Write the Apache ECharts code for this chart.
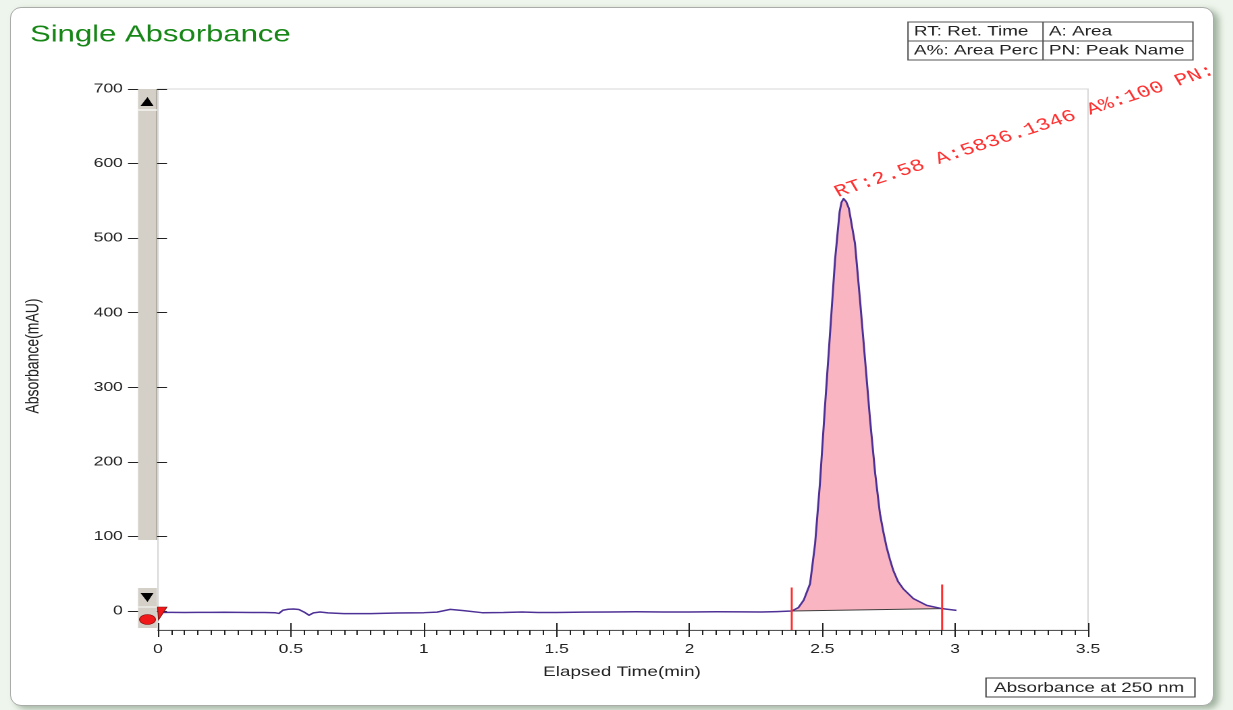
<!DOCTYPE html>
<html>
<head>
<meta charset="utf-8">
<script src="https://cdn.jsdelivr.net/npm/echarts@6/dist/echarts.min.js"></script>
<style>
  html, body { margin: 0; padding: 0; width: 1233px; height: 710px; overflow: hidden; background: #eef5ec; }
  #panel {
    position: absolute; left: 10px; top: 7px; width: 1202px; height: 697px;
    background: #fff; border: 1px solid #a9aca9; border-radius: 11px;
    box-shadow: 5px 3px 6px rgba(110, 135, 110, 0.6);
  }
  #chart { position: absolute; left: 0; top: 0; height: 710px; transform-origin: 0 0; }
</style>
</head>
<body>
<div id="panel"></div>
<div id="chart"></div>
<script>
// Detector trace: elapsed time (min) and absorbance (mAU)
const traceTime = [
  0.00, 0.05, 0.10, 0.15, 0.20, 0.25, 0.30, 0.35, 0.40, 0.44,
  0.455, 0.47, 0.49, 0.51, 0.53, 0.55, 0.568, 0.585, 0.61, 0.64,
  0.70, 0.80, 0.90, 1.00, 1.05, 1.10, 1.15, 1.22, 1.30, 1.37,
  1.43, 1.50, 1.60, 1.70, 1.80, 1.90, 2.00, 2.10, 2.20, 2.27,
  2.33, 2.385, 2.41, 2.43, 2.454, 2.473, 2.491, 2.51, 2.529, 2.548,
  2.565, 2.572, 2.58, 2.59, 2.60, 2.623, 2.642, 2.661, 2.68, 2.699,
  2.717, 2.73, 2.742, 2.755, 2.767, 2.785, 2.805, 2.843, 2.893, 2.951, 3.005
];
const traceAbs = [
  -1.5, -1.4, -1.5, -1.3, -1.4, -1.2, -1.3, -1.6, -1.5, -1.8,
  -2.8, 1.5, 2.8, 3.2, 2.5, -1.0, -5.2, -2.0, -0.9, -2.0,
  -3.0, -3.0, -2.3, -1.8, -1.0, 2.6, 1.0, -1.8, -1.5, -0.8,
  -1.6, -1.5, -1.0, -0.8, -0.6, -0.9, -0.8, -0.6, -0.7, -0.9,
  -0.3, 0.4, 5, 15, 37, 91, 171, 274, 372, 471,
  535, 548, 553, 549, 540, 493, 417, 337, 256, 185,
  131, 106, 86, 69, 55, 40, 30, 17, 8, 3.6, 1.3
];

// Integrated peak: start/end marks and the drawn baseline between them
const peakStart = 2.385;
const peakEnd = 2.951;
const baselineStart = 0.4;
const baselineEnd = 3.6;
const markerTimes = [2.385, 2.951];
const markerTops = [32, 36];

// Peak report
const peakRT = 2.58;
const peakApex = 553;
const peakArea = '5836.1346';
const peakAreaPct = '100';

// Axis ticks
const xTicks = [0, 0.5, 1, 1.5, 2, 2.5, 3, 3.5];
const yTicks = [0, 100, 200, 300, 400, 500, 600, 700];

// Legend texts
const legendCells = [['RT: Ret. Time', 'A: Area'], ['A%: Area Perc', 'PN: Peak Name']];
const channelName = 'Absorbance at 250 nm';

// The instrument screen is drawn 1.35x wider than tall
const STRETCH = 1.35;
const W = Math.round(1213 / STRETCH);
const el = document.getElementById('chart');
el.style.width = W + 'px';
el.style.transform = 'scaleX(' + STRETCH + ')';
const px = v => v / STRETCH;   // horizontal screen pixel -> chart pixel

const FONT = 'Liberation Sans, Arial, sans-serif';
const gridLeft = px(158);
const gridRight = W - px(1088);

const traceData = traceTime.map((t, i) => [t, traceAbs[i]]);

const markerSeries = markerTimes.map((t, i) => ({
  type: 'line', xAxisIndex: 0, yAxisIndex: 0, silent: true, symbol: 'none',
  data: [[t, -25], [t, markerTops[i]]],
  lineStyle: { color: '#ff2d2d', width: 1.5 }, z: 6
}));

const chart = echarts.init(el, null, { renderer: 'canvas', devicePixelRatio: 2 });

const option = {
  animation: false,
  backgroundColor: 'transparent',
  grid: [
    { left: gridLeft, right: gridRight, top: 89, bottom: 80, show: true,
      borderColor: '#d6d6d6', borderWidth: 1, backgroundColor: 'transparent' },
    { left: gridLeft, right: gridRight, top: 89, bottom: 99 }
  ],
  xAxis: [
    { type: 'value', gridIndex: 0, position: 'bottom', min: 0, max: 3.5, interval: 0.5,
      axisLine: { onZero: false, lineStyle: { color: '#555', width: 1 } },
      axisTick: { show: true, length: 7, lineStyle: { color: '#222' } },
      minorTick: { show: true, splitNumber: 10, length: 5, lineStyle: { color: '#222' } },
      splitLine: { show: false },
      axisLabel: { color: '#222', fontFamily: FONT, fontSize: 13, margin: 13,
        formatter: v => String(v) } },
    { type: 'value', gridIndex: 0, position: 'bottom', min: 0, max: 3.5, interval: 0.5,
      axisLine: { show: false, onZero: false },
      axisTick: { show: true, inside: true, length: 7, lineStyle: { color: '#222' } },
      axisLabel: { show: false }, splitLine: { show: false } },
    { type: 'value', gridIndex: 1, min: 0, max: 3.5, show: false }
  ],
  yAxis: [
    { type: 'value', gridIndex: 0, min: -25, max: 700, show: false },
    { type: 'value', gridIndex: 1, position: 'left', min: 0, max: 700, interval: 100,
      axisLine: { show: false, onZero: false },
      axisTick: { show: true, length: px(30), lineStyle: { color: '#222' } },
      splitLine: { show: false },
      axisLabel: { color: '#222', fontFamily: FONT, fontSize: 13, margin: 26 } },
    { type: 'value', gridIndex: 1, position: 'left', min: 0, max: 700, interval: 100,
      axisLine: { show: false, onZero: false },
      axisTick: { show: true, inside: true, length: px(9), lineStyle: { color: '#222' } },
      axisLabel: { show: false }, splitLine: { show: false } }
  ],
  series: [
    { // shaded integrated area between the trace and the peak baseline
      type: 'custom', xAxisIndex: 0, yAxisIndex: 0, silent: true, z: 2,
      data: [[peakStart, baselineStart]],
      renderItem: (params, api) => {
        const pts = [];
        traceData.forEach(d => {
          if (d[0] >= peakStart && d[0] <= peakEnd) pts.push(api.coord(d));
        });
        pts.push(api.coord([peakEnd, baselineEnd]));
        pts.push(api.coord([peakStart, baselineStart]));
        return { type: 'polygon', shape: { points: pts }, style: { fill: '#f9b6c2', stroke: null } };
      }
    },
    { // peak baseline
      type: 'line', xAxisIndex: 0, yAxisIndex: 0, silent: true, symbol: 'none', z: 3,
      data: [[peakStart, baselineStart], [peakEnd, baselineEnd]],
      lineStyle: { color: '#3c3c3c', width: 1 }
    },
    { // detector trace
      type: 'line', xAxisIndex: 0, yAxisIndex: 0, silent: true, symbol: 'none', z: 5,
      data: traceData,
      lineStyle: { color: '#4e3196', width: 1.5, join: 'round' }
    },
    ...markerSeries
  ]
};
chart.setOption(option);

// Screen furniture: title, legend boxes, axis titles, scroll buttons, peak report
const apex = chart.convertToPixel({ xAxisIndex: 0, yAxisIndex: 0 }, [peakRT, peakApex]);
const sbL = px(138), sbR = px(157), sbW = sbR - sbL, sbC = (sbL + sbR) / 2;

const legendX0 = px(908), legendX1 = px(1193), legendXm = px(1043);
const legendGraphics = [
  { type: 'rect', shape: { x: legendX0, y: 22, width: legendX1 - legendX0, height: 38 },
    style: { fill: '#fff', stroke: '#555', lineWidth: 1 } },
  { type: 'line', shape: { x1: legendX0, y1: 41, x2: legendX1, y2: 41 }, style: { stroke: '#555', lineWidth: 1 } },
  { type: 'line', shape: { x1: legendXm, y1: 22, x2: legendXm, y2: 60 }, style: { stroke: '#555', lineWidth: 1 } }
];
legendCells.forEach((row, r) => row.forEach((txt, c) => {
  legendGraphics.push({
    type: 'text', x: (c === 0 ? px(914) : px(1049)), y: 31.5 + r * 19,
    style: { text: txt, fill: '#222', font: '14px ' + FONT, verticalAlign: 'middle', align: 'left' }
  });
}));

chart.setOption({
  graphic: [
    { type: 'text', x: px(30), y: 35, z: 50,
      style: { text: 'Single Absorbance', fill: '#168616', font: '23px ' + FONT, verticalAlign: 'middle' } },
    ...legendGraphics.map(g => Object.assign({ z: 50 }, g)),
    { type: 'rect', z: 50, shape: { x: px(986), y: 678, width: px(1195) - px(986), height: 19 },
      style: { fill: '#fff', stroke: '#444', lineWidth: 1 } },
    { type: 'text', z: 51, x: px(994), y: 688,
      style: { text: channelName, fill: '#222', font: '14px ' + FONT, verticalAlign: 'middle' } },
    { type: 'text', z: 50, x: px(622), y: 672,
      style: { text: 'Elapsed Time(min)', fill: '#222', font: '14px ' + FONT, align: 'center', verticalAlign: 'middle' } },
    { type: 'text', z: 50, x: px(33), y: 356, rotation: Math.PI / 2,
      style: { text: 'Absorbance(mAU)', fill: '#222', font: '14px ' + FONT, align: 'center', verticalAlign: 'middle' } },

    // vertical scroll bar beside the absorbance axis
    { type: 'rect', z: 60, shape: { x: sbL, y: 89, width: sbW, height: 451 }, style: { fill: '#d4d0c8' } },
    { type: 'line', z: 61, shape: { x1: sbR - 0.4, y1: 89, x2: sbR - 0.4, y2: 540 }, style: { stroke: '#a9a59d', lineWidth: 0.8 } },
    { type: 'line', z: 61, shape: { x1: sbL, y1: 110, x2: sbR, y2: 110 }, style: { stroke: '#f4f4f0', lineWidth: 1.5 } },
    { type: 'polygon', z: 62, shape: { points: [[px(140.5), 106], [px(153.5), 106], [sbC, 97]] }, style: { fill: '#000' } },
    { type: 'rect', z: 60, shape: { x: sbL, y: 588, width: sbW, height: 40 }, style: { fill: '#d4d0c8' } },
    { type: 'line', z: 61, shape: { x1: sbL, y1: 607, x2: sbR, y2: 607 }, style: { stroke: '#f4f4f0', lineWidth: 1.2 } },
    { type: 'polygon', z: 62, shape: { points: [[px(140.5), 593], [px(153.5), 593], [sbC, 602]] }, style: { fill: '#000' } },
    { type: 'ellipse', z: 62, shape: { cx: px(147.5), cy: 619.5, rx: px(8), ry: 5 },
      style: { fill: '#f01818', stroke: '#8a1010', lineWidth: 0.6 } },
    { type: 'polygon', z: 62, shape: { points: [[px(157.5), 607], [px(167), 607], [px(158.5), 620]] },
      style: { fill: '#f01818', stroke: '#7a1010', lineWidth: 0.6 } },

    // peak report written along a slant from the apex
    { type: 'text', z: 70, x: apex[0] - 2.5, y: apex[1] + 2, rotation: 0.415,
      style: { text: 'RT:' + peakRT + ' A:' + peakArea + ' A%:' + peakAreaPct + ' PN:',
        fill: '#ff3030', font: '17px Liberation Mono, Courier New, monospace',
        align: 'left', verticalAlign: 'bottom' } }
  ]
});
</script>
</body>
</html>
